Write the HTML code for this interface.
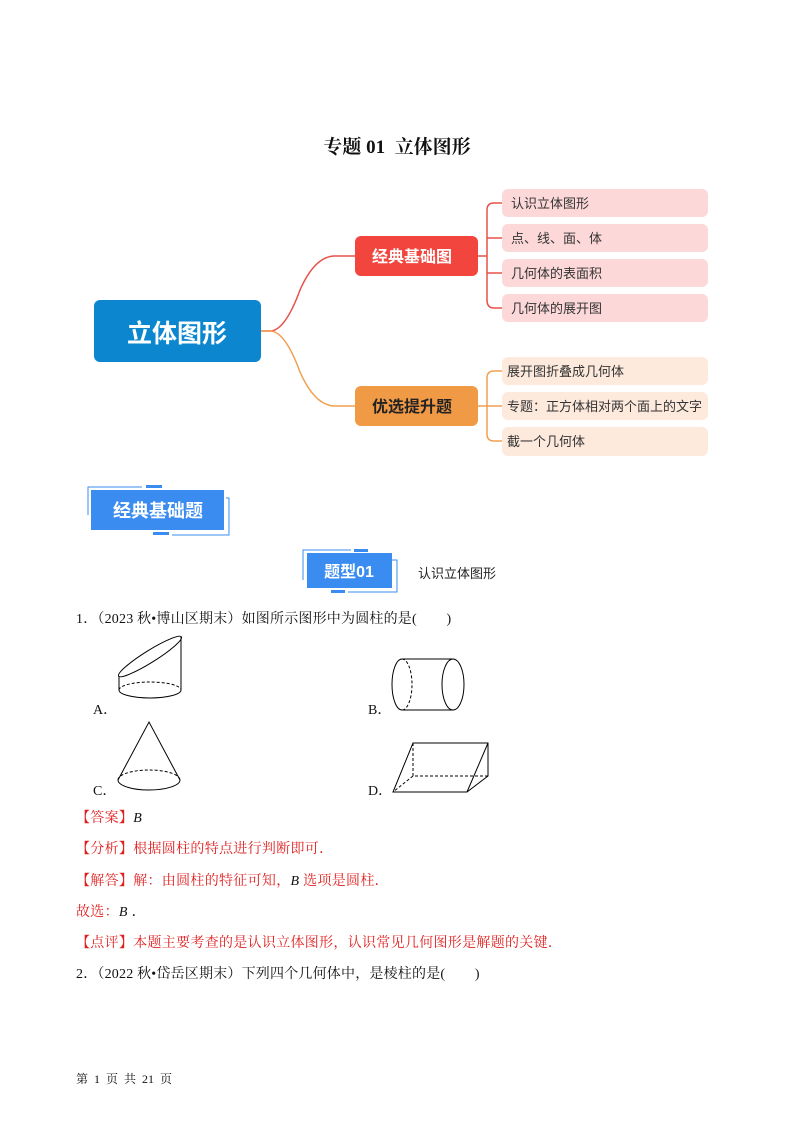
<!DOCTYPE html>
<html><head><meta charset="utf-8"><style>
html,body{margin:0;padding:0;background:#fff;}
svg{display:block;}
.s{font-family:"Liberation Serif","Noto Serif CJK SC",serif;}
.h{font-family:"Liberation Sans","Noto Sans CJK SC",sans-serif;}
</style></head><body>
<svg width="793" height="1122" viewBox="0 0 793 1122" xmlns="http://www.w3.org/2000/svg">
<text class="s" x="397" y="153" font-size="19" font-weight="bold" text-anchor="middle" fill="#111" xml:space="preserve">专题 01  立体图形</text>

<g fill="none" stroke-width="1.5">
<path d="M261 331 H270 Q285 331 300 290 Q315 256 335 256 H355" stroke="#e8504a"/>
<path d="M261 331 H270 Q285 331 300 372 Q315 406 335 406 H355" stroke="#f0a050"/>
<path d="M478 256 H487 M487 210 V300 M487 210 Q487 203 494 203 H502 M487 238 H502 M487 273 H502 M487 300 Q487 308 494 308 H502" stroke="#e8504a"/>
<path d="M478 406 H502 M487 378 V434 M487 378 Q487 371 494 371 H502 M487 434 Q487 441 494 441 H502" stroke="#f0a050"/>
</g>
<rect x="94" y="300" width="167" height="62" rx="6" fill="#0b86cf"/>
<text class="h" x="177" y="342" font-size="25" font-weight="bold" fill="#fff" text-anchor="middle">立体图形</text>
<rect x="355" y="236" width="123" height="40" rx="6" fill="#f2453d"/>
<text class="h" x="412" y="262" font-size="16" font-weight="bold" fill="#fff" text-anchor="middle">经典基础图</text>
<rect x="355" y="386" width="123" height="40" rx="6" fill="#f19a45"/>
<text class="h" x="412" y="412" font-size="16" font-weight="bold" fill="#222" text-anchor="middle">优选提升题</text>
<g class="h" font-size="13" fill="#333">
<rect x="502" y="189" width="206" height="28" rx="6" fill="#fdd8d8"/><text x="511" y="208">认识立体图形</text>
<rect x="502" y="224" width="206" height="28" rx="6" fill="#fdd8d8"/><text x="511" y="243">点、线、面、体</text>
<rect x="502" y="259" width="206" height="28" rx="6" fill="#fdd8d8"/><text x="511" y="278">几何体的表面积</text>
<rect x="502" y="294" width="206" height="28" rx="6" fill="#fdd8d8"/><text x="511" y="313">几何体的展开图</text>
<rect x="502" y="357" width="206" height="28" rx="6" fill="#fdeadd"/><text x="507" y="376">展开图折叠成几何体</text>
<rect x="502" y="392" width="206" height="28" rx="6" fill="#fdeadd"/><text x="507" y="411">专题：正方体相对两个面上的文字</text>
<rect x="502" y="427" width="206" height="29" rx="6" fill="#fdeadd"/><text x="507" y="446">截一个几何体</text>
</g>

<g fill="none" stroke="#3b8cf0" stroke-width="1">
<path d="M88 515 V487 H142"/><path d="M172 535 H229 V498 H226"/>
<path d="M303 580 V550 H351"/><path d="M348 592 H397 V560 H392"/>
</g>
<rect x="146" y="485" width="16" height="3" fill="#3b8cf0"/>
<rect x="153" y="532" width="16" height="3" fill="#3b8cf0"/>
<rect x="91" y="490" width="133" height="40" fill="#3b8cf0"/>
<text class="h" x="158" y="517" font-size="18" font-weight="bold" fill="#fff" text-anchor="middle">经典基础题</text>
<rect x="354" y="549" width="14" height="3" fill="#3b8cf0"/>
<rect x="331" y="590" width="14" height="3" fill="#3b8cf0"/>
<rect x="307" y="553" width="85" height="35" fill="#3b8cf0"/>
<text class="h" x="349" y="577" font-size="16" font-weight="bold" fill="#fff" text-anchor="middle">题型01</text>
<text class="h" x="418" y="578" font-size="13" fill="#222">认识立体图形</text>

<g class="s" font-size="14" fill="#111">
<text x="76" y="623" letter-spacing="0.2" xml:space="preserve">1．（2023 秋•博山区期末）如图所示图形中为圆柱的是(        )</text>
<text x="93" y="714">A．</text><text x="368" y="714">B．</text>
<text x="93" y="795">C．</text><text x="368" y="795">D．</text>
</g>

<g fill="none" stroke="#000" stroke-width="1">
<path d="M119 690 A31 8 0 0 0 181 690"/>
<path d="M119 690 A31 8 0 0 1 181 690" stroke-dasharray="3,2"/>
<line x1="119" y1="690" x2="119" y2="676"/>
<line x1="181" y1="690" x2="181" y2="637"/>
<ellipse cx="150" cy="656.5" rx="37" ry="6" transform="rotate(-32 150 656.5)"/>
<path d="M402 659 A10 25.5 0 0 0 402 710"/>
<path d="M402 659 A10 25.5 0 0 1 402 710" stroke-dasharray="3,2"/>
<ellipse cx="453" cy="684.5" rx="11" ry="25.5"/>
<line x1="402" y1="659" x2="453" y2="659"/>
<line x1="402" y1="710" x2="453" y2="710"/>
<path d="M118 780 A31 10 0 0 0 180 780"/>
<path d="M118 780 A31 10 0 0 1 180 780" stroke-dasharray="3,2"/>
<path d="M118 780 L149 722 L180 780"/>
<path d="M413 743 H488 V776 L467 792 H393 Z"/>
<line x1="488" y1="743" x2="467" y2="792"/>
<path d="M413 743 V776 H488 M413 776 L393 792" stroke-dasharray="3,2"/>
</g>

<g class="s" font-size="14" fill="#e02020" letter-spacing="0.3">
<text x="76" y="822">【答案】<tspan fill="#111" font-style="italic">B</tspan></text>
<text x="76" y="853">【分析】根据圆柱的特点进行判断即可．</text>
<text x="76" y="885">【解答】解：由圆柱的特征可知，<tspan fill="#111" font-style="italic">B</tspan> 选项是圆柱．</text>
<text x="76" y="916">故选：<tspan fill="#111" font-style="italic">B</tspan><tspan fill="#111"> ．</tspan></text>
<text x="76" y="947">【点评】本题主要考查的是认识立体图形，认识常见几何图形是解题的关键．</text>
</g>
<text class="s" x="76" y="978" font-size="14" fill="#111" letter-spacing="0.2" xml:space="preserve">2．（2022 秋•岱岳区期末）下列四个几何体中，是棱柱的是(        )</text>
<text class="s" x="76" y="1083" font-size="12" fill="#111" xml:space="preserve">第  1  页  共  21  页</text>
</svg>
</body></html>
